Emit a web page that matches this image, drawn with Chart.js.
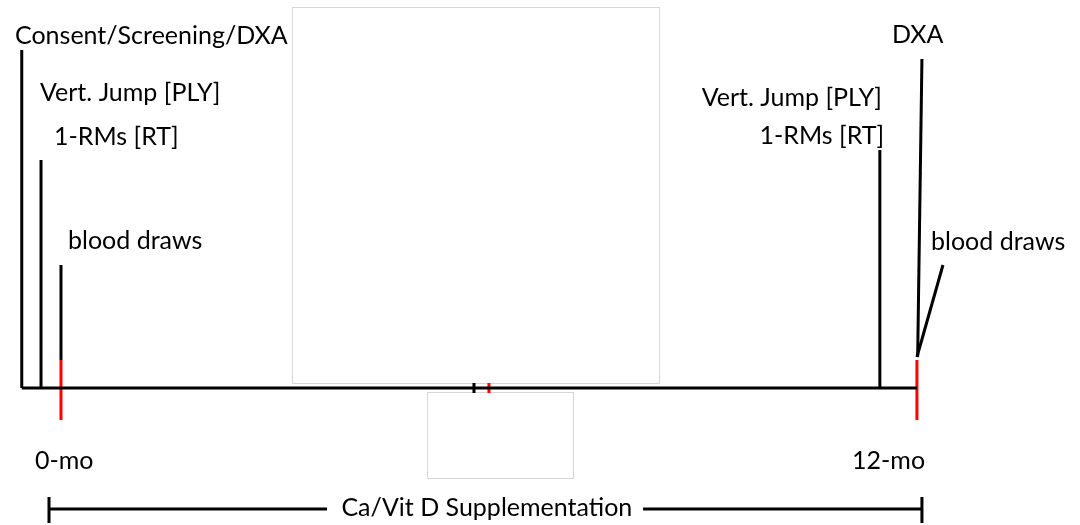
<!DOCTYPE html>
<html><head><meta charset="utf-8">
<script src="https://cdn.jsdelivr.net/npm/chart.js@4"></script>
<style>html,body{margin:0;padding:0;background:#fff}#wrap{width:1080px;height:525px}</style>
</head><body><div id="wrap"><canvas id="c" width="1080" height="525"></canvas></div>
<script>
// ---- data (x = study month, y = level above the timeline axis) ----
const segStartMonth = [-0.55, -0.55, -0.28, 0.0, 0.0, 11.48, 12.07, 12.365, 12.0, 5.79, 6.0, -0.168, 8.16, -0.168, 12.07];
const segStartLevel = [0, 0, 0, 28, 123, 0, 329, 123, 28, 5, 5, -121, -121, -109, -109];
const segEndMonth   = [12.0, -0.55, -0.28, 0.0, 0.0, 11.48, 12.01, 12.0, 12.0, 5.79, 6.0, 3.73, 12.07, -0.168, 12.07];
const segEndLevel   = [0, 338, 228, -32, 28, 238, 31, 31, -32, -5, -5, -121, -121, -135, -135];
const segKind       = ['axis','event','event','blood','event','event','event','event','blood','event','blood','bracket','bracket','bracket','bracket'];

const labelText  = ['Consent/Screening/DXA','Vert. Jump [PLY]','1-RMs [RT]','blood draws','0-mo',
                    'DXA','Vert. Jump [PLY]','1-RMs [RT]','blood draws','12-mo','Ca/Vit D Supplementation'];
const labelMonth = [-0.645, -0.294, -0.098, 0.098, -0.365, 11.65, 11.51, 11.54, 12.197, 11.09, 5.97];
const labelLevel = [352, 295, 251, 147, -73, 353, 290, 252, 146, -73, -120];
const labelAlign = ['left','left','left','left','left','left','right','right','left','left','center'];

const boxMonth0 = [3.24, 5.13];
const boxMonth1 = [8.38, 7.18];
const boxLevel0 = [381, -4];
const boxLevel1 = [5, -90];

const xMin = -0.855, xMax = 14.286, yMin = -137, yMax = 388;

const kindStyle = {axis:{c:'#000',w:3}, event:{c:'#000',w:3}, blood:{c:'#ff0000',w:3}, bracket:{c:'#000',w:3}};

const datasets = segStartMonth.map((m,i)=>({
  data:[{x:m,y:segStartLevel[i]},{x:segEndMonth[i],y:segEndLevel[i]}],
  showLine:true, pointRadius:0, borderColor:kindStyle[segKind[i]].c,
  borderWidth:kindStyle[segKind[i]].w, borderCapStyle:'butt', fill:false
}));

const FONT = '25px Lato, "Open Sans", sans-serif';

const decor = {
  id:'decor',
  beforeDatasetsDraw(chart){
    const {ctx, scales:{x,y}} = chart;
    ctx.save();
    ctx.strokeStyle = '#d6d6d6'; ctx.lineWidth = 1;
    for (let i=0;i<boxMonth0.length;i++){
      const x0=Math.round(x.getPixelForValue(boxMonth0[i]))+0.5, x1=Math.round(x.getPixelForValue(boxMonth1[i]))+0.5;
      const y0=Math.round(y.getPixelForValue(boxLevel0[i]))+0.5, y1=Math.round(y.getPixelForValue(boxLevel1[i]))+0.5;
      ctx.strokeRect(x0,y0,x1-x0,y1-y0);
    }
    ctx.restore();
  },
  afterDatasetsDraw(chart){
    const {ctx, scales:{x,y}} = chart;
    ctx.save();
    ctx.font = FONT; ctx.fillStyle = '#000'; ctx.textBaseline = 'middle';
    labelText.forEach((t,i)=>{
      ctx.textAlign = labelAlign[i];
      ctx.fillText(t, x.getPixelForValue(labelMonth[i]), y.getPixelForValue(labelLevel[i]));
    });
    ctx.restore();
  }
};

new Chart(document.getElementById('c'), {
  type:'scatter',
  data:{datasets},
  options:{
    responsive:false, animation:false,
    layout:{padding:0},
    plugins:{legend:{display:false}, tooltip:{enabled:false}},
    scales:{
      x:{type:'linear', min:xMin, max:xMax, display:false},
      y:{type:'linear', min:yMin, max:yMax, display:false}
    }
  },
  plugins:[decor]
});
</script></body></html>
